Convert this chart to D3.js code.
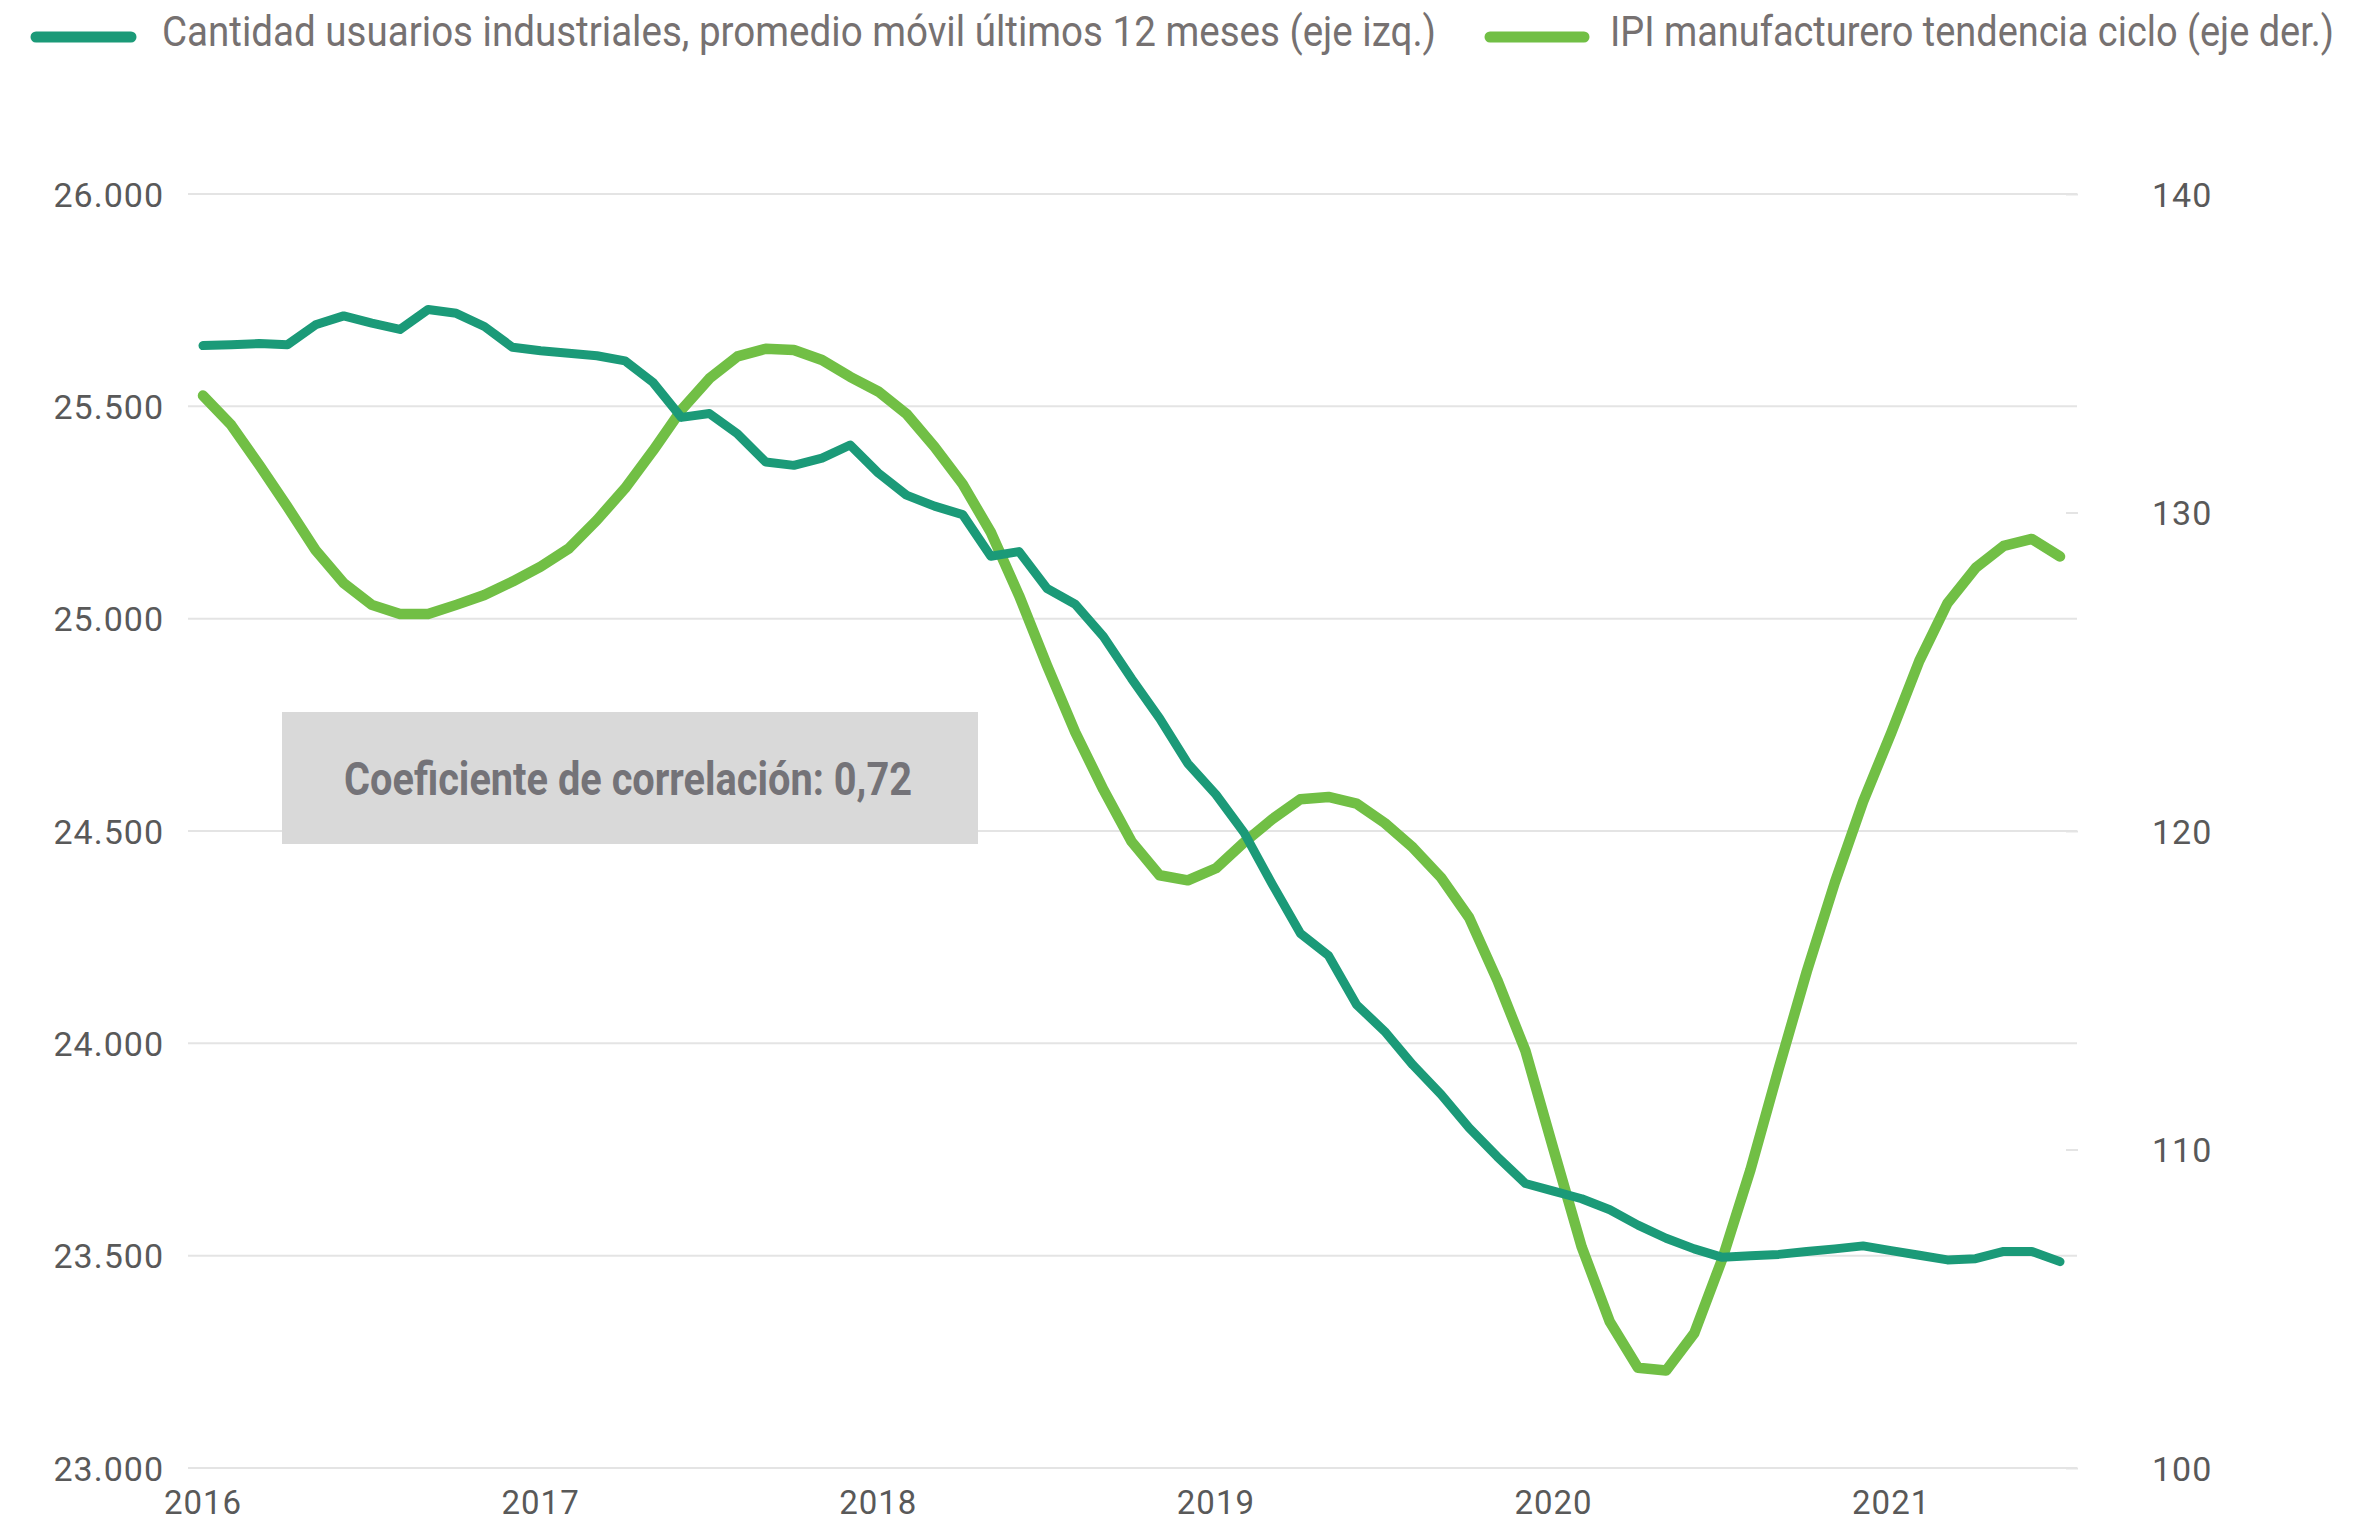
<!DOCTYPE html>
<html>
<head>
<meta charset="utf-8">
<script src="https://cdn.jsdelivr.net/npm/d3@7"></script>
<style>
  body { margin: 0; background: #fff; }
  text { font-family: Roboto, "Noto Sans", sans-serif; }
</style>
</head>
<body>
<div id="chart"></div>
<script>
// year labels, one every 12 months starting Jan 2016
var years = ["2016", "2017", "2018", "2019", "2020", "2021"];

// Cantidad usuarios industriales, promedio movil 12 meses (ene-2016 .. jul-2021)
var usuarios = [25643, 25645, 25648, 25645, 25692, 25713, 25696, 25681, 25728, 25719, 25688, 25639,
                25631, 25625, 25619, 25607, 25556, 25474, 25483, 25435, 25369, 25361, 25378, 25409,
                25343, 25291, 25265, 25245, 25147, 25158, 25071, 25034, 24958, 24859, 24765, 24659,
                24586, 24496, 24375, 24259, 24207, 24091, 24028, 23949, 23880, 23801, 23733, 23670,
                23652, 23634, 23608, 23572, 23541, 23516, 23496, 23500, 23503, 23510, 23516, 23523,
                23512, 23501, 23490, 23493, 23510, 23510, 23486];

// IPI manufacturero tendencia ciclo
var ipi = [133.67, 132.75, 131.49, 130.18, 128.82, 127.78, 127.10, 126.81, 126.81, 127.10, 127.41, 127.83,
           128.30, 128.87, 129.76, 130.76, 131.95, 133.22, 134.21, 134.90, 135.14, 135.10, 134.79, 134.26,
           133.80, 133.10, 132.06, 130.89, 129.38, 127.40, 125.19, 123.10, 121.30, 119.67, 118.61, 118.45,
           118.83, 119.64, 120.37, 121.00, 121.07, 120.86, 120.25, 119.48, 118.54, 117.28, 115.32, 113.10,
           110.00, 106.94, 104.59, 103.15, 103.06, 104.23, 106.57, 109.37, 112.53, 115.59, 118.39, 120.92,
           123.08, 125.34, 127.15, 128.26, 128.95, 129.17, 128.62];

var leftTicks = [23000, 23500, 24000, 24500, 25000, 25500, 26000];
var rightTicks = [100, 110, 120, 130, 140];

var seriesNames = ["Cantidad usuarios industriales, promedio móvil últimos 12 meses (eje izq.)",
                   "IPI manufacturero tendencia ciclo (eje der.)"];
var nota = "Coeficiente de correlación: 0,72";

var width = 2380, height = 1522;
var colDark = "#1b9a78", colGreen = "#71bf45";

var svg = d3.select("#chart")
            .append("svg")
            .attr("width", width)
            .attr("height", height);

var locale = d3.formatLocale({decimal: ",", thousands: ".", grouping: [3], currency: ["$", ""]});
var fmt = locale.format(",.0f");

// scales
var x = d3.scaleLinear()
            .domain([0, usuarios.length - 1])
            .range([203, 2060]);
var yL = d3.scaleLinear()
            .domain([23000, 26000])
            .range([1468, 194]);
var yR = d3.scaleLinear()
            .domain([100, 140])
            .range([1468, 194]);

// gridlines
svg.append("g")
    .selectAll("line")
    .data(leftTicks)
    .enter().append("line")
    .attr("x1", 188)
    .attr("x2", 2077)
    .attr("y1", d => yL(d))
    .attr("y2", d => yL(d))
    .attr("stroke", "#e4e4e4")
    .attr("stroke-width", 2);

// left axis
var gl = svg.append("g")
    .attr("transform", "translate(188,0)")
    .call(d3.axisLeft(yL).tickValues(leftTicks).tickFormat(fmt).tickSize(0).tickPadding(24));
gl.select(".domain").remove();
gl.selectAll("text")
    .attr("font-size", 34)
    .attr("fill", "#595959")
    .attr("letter-spacing", 1)
    .attr("dy", "0.36em");

// right axis
var gr = svg.append("g")
    .attr("transform", "translate(2066,0)")
    .call(d3.axisRight(yR).tickValues(rightTicks).tickSize(12).tickPadding(74));
gr.select(".domain").remove();
gr.selectAll("line").attr("stroke", "#e4e4e4").attr("stroke-width", 2);
gr.selectAll("text")
    .attr("font-size", 34)
    .attr("fill", "#595959")
    .attr("letter-spacing", 1)
    .attr("dy", "0.36em");

// x axis year labels
svg.append("g")
    .selectAll("text")
    .data(years)
    .enter().append("text")
    .text(d => d)
    .attr("x", (d, i) => x(i * 12))
    .attr("y", 1514)
    .attr("text-anchor", "middle")
    .attr("font-size", 33)
    .attr("letter-spacing", 1)
    .attr("fill", "#595959");

// annotation box
svg.append("rect")
    .attr("x", 282)
    .attr("y", 712)
    .attr("width", 696)
    .attr("height", 132)
    .attr("fill", "#d9d9d9");
svg.append("text")
    .text(nota)
    .attr("x", 344)
    .attr("y", 795)
    .attr("font-size", 46)
    .attr("font-weight", "bold")
    .attr("fill", "#747378")
    .attr("textLength", 568)
    .attr("lengthAdjust", "spacingAndGlyphs");

// lines
var lineL = d3.line()
    .x((d, i) => x(i))
    .y(d => yL(d));
var lineR = d3.line()
    .x((d, i) => x(i))
    .y(d => yR(d));

svg.append("path")
    .datum(ipi)
    .attr("d", lineR)
    .attr("fill", "none")
    .attr("stroke", colGreen)
    .attr("stroke-width", 10.5)
    .attr("stroke-linejoin", "round")
    .attr("stroke-linecap", "round");

svg.append("path")
    .datum(usuarios)
    .attr("d", lineL)
    .attr("fill", "none")
    .attr("stroke", colDark)
    .attr("stroke-width", 9)
    .attr("stroke-linejoin", "round")
    .attr("stroke-linecap", "round");

// legend
var legend = [
  {name: seriesNames[0], color: colDark, x0: 36, x1: 131, tx: 162, tw: 1274},
  {name: seriesNames[1], color: colGreen, x0: 1490, x1: 1584, tx: 1610, tw: 724}
];
var lg = svg.append("g")
    .selectAll("g")
    .data(legend)
    .enter().append("g");
lg.append("line")
    .attr("x1", d => d.x0)
    .attr("x2", d => d.x1)
    .attr("y1", 37)
    .attr("y2", 37)
    .attr("stroke", d => d.color)
    .attr("stroke-width", 11)
    .attr("stroke-linecap", "round");
lg.append("text")
    .text(d => d.name)
    .attr("x", d => d.tx)
    .attr("y", 46)
    .attr("font-size", 42)
    .attr("fill", "#767171")
    .attr("textLength", d => d.tw)
    .attr("lengthAdjust", "spacingAndGlyphs");
</script>
</body>
</html>
